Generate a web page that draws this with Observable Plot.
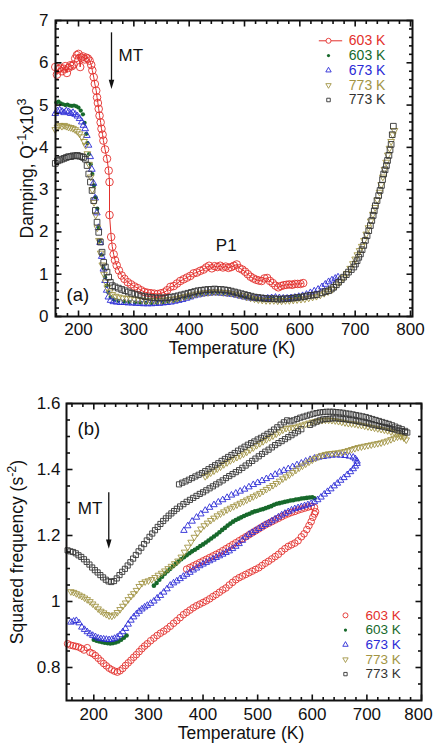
<!DOCTYPE html>
<html>
<head>
<meta charset="utf-8">
<script src="https://cdn.jsdelivr.net/npm/d3@7"></script>
<script src="https://cdn.jsdelivr.net/npm/@observablehq/plot@0.6"></script>
<style>
  html, body { margin: 0; padding: 0; background: #fff; }
  #fig { position: relative; width: 434px; height: 747px; overflow: hidden;
         font-family: "Liberation Sans", Arial, Helvetica, sans-serif; }
  #fig svg { position: absolute; left: 0; }
</style>
</head>
<body>
<div id="fig"></div>
<script>
// ---------------- (a) damping Q^-1 x10^3 versus temperature, [K, value] ----------------
const dampRed603 = [[158,5.90],[161,5.72],[164,5.85],[167,5.88],[170,5.80],[173,5.86],[176,5.92],[179,5.76],[182,5.88],[185,5.94],[188,5.92],[191,5.96],[194,6.10],[197,6.18],[200,6.21],[203,5.90],[205,6.12],[208,6.15],[211,6.08],[214,6.12],[217,6.10],[220,6.05],[223,5.95],[225,5.82],[227.5,5.66],[229.5,5.50],[232,5.34],[233.5,5.18],[235,5.05],[236.5,4.91],[238,4.75],[240,4.59],[241.5,4.44],[243.5,4.30],[245,4.16],[248,3.95],[251.5,3.73],[254.5,3.45],[256,3.18],[256,2.40],[259,1.88],[261,1.65],[263.5,1.47],[266,1.33],[269,1.21],[273,1.09],[278,0.97],[283,0.89],[289,0.81],[295,0.76],[301,0.71],[307,0.67],[313,0.62],[319,0.58],[325,0.56],[331,0.55],[337,0.54],[343,0.53],[349,0.55],[355,0.57],[360,0.62],[366,0.70],[372,0.72],[378,0.78],[384,0.84],[390,0.88],[396,0.92],[402,0.96],[408,1.02],[414,1.04],[420,1.08],[426,1.11],[431,1.16],[436,1.20],[441,1.14],[446,1.19],[451,1.17],[456,1.20],[461,1.16],[466,1.18],[471,1.15],[476,1.17],[481,1.20],[486,1.23],[491,1.14],[496,1.11],[501,1.06],[506,1.00],[511,0.94],[516,0.90],[521,0.87],[526,0.85],[531,0.84],[536,0.90],[541,0.91],[546,0.84],[551,0.79],[556,0.73],[561,0.69],[566,0.72],[571,0.74],[576,0.75],[581,0.76],[586,0.75],[591,0.77],[596,0.77],[601,0.77],[606,0.79]];

const dampGreen603 = [[160,5.06],[164,5.08],[168,5.04],[172,5.02],[176,5.00],[180,5.01],[184,4.99],[188,4.98],[192,4.99],[196,4.97],[200,4.94],[204,4.87],[208,4.78],[211,4.58],[214,4.32],[216,4.10],[219,3.84],[222,3.60],[225,3.37],[228,3.10],[231,2.82],[234,2.55],[236.5,2.10],[239,1.78],[242,1.46],[245,1.17],[248,0.93],[251,0.73],[254,0.57],[258,0.46],[264,0.40],[272,0.37],[282,0.35],[292,0.34],[302,0.33],[312,0.33],[322,0.32],[332,0.32],[342,0.32],[352,0.33],[362,0.35],[372,0.37],[382,0.40],[392,0.43],[402,0.46],[412,0.50],[422,0.52],[432,0.54],[442,0.55],[452,0.55],[462,0.54],[472,0.53],[482,0.51],[492,0.48],[502,0.45],[512,0.42],[522,0.40],[532,0.40],[542,0.41],[552,0.42],[562,0.41],[572,0.41],[582,0.42],[592,0.44],[600,0.46]];

const dampBlue673 = [[158,4.80],[162,4.86],[166,4.88],[170,4.85],[174,4.82],[178,4.86],[182,4.84],[186,4.80],[190,4.82],[194,4.78],[198,4.74],[202,4.68],[206,4.60],[209,4.52],[212,4.44],[215,4.28],[218,4.05],[221,3.78],[224,3.48],[227,3.15],[230,2.80],[233,2.45],[236,2.10],[239,1.75],[242,1.42],[245,1.12],[248,0.85],[251,0.62],[254,0.46],[258,0.38],[263,0.35],[269,0.34],[276,0.33],[283,0.33],[290,0.32],[297,0.32],[304,0.31],[311,0.31],[318,0.30],[325,0.30],[332,0.30],[339,0.31],[346,0.31],[353,0.32],[360,0.33],[367,0.34],[374,0.36],[381,0.38],[388,0.40],[395,0.43],[402,0.46],[409,0.49],[416,0.51],[423,0.53],[430,0.54],[437,0.55],[444,0.56],[451,0.56],[458,0.55],[465,0.54],[472,0.53],[479,0.52],[486,0.50],[493,0.48],[500,0.46],[507,0.44],[514,0.43],[521,0.42],[528,0.42],[535,0.42],[542,0.43],[549,0.44],[556,0.45],[563,0.44],[570,0.43],[577,0.43],[584,0.44],[591,0.45],[598,0.47],[605,0.49],[612,0.52],[619,0.56],[626,0.60],[633,0.64],[640,0.70],[646,0.76],[652,0.82],[658,0.86],[664,0.90],[669,0.93]];

const dampOlive773 = [[158,4.42],[162,4.48],[166,4.52],[170,4.50],[174,4.52],[178,4.50],[182,4.48],[186,4.47],[190,4.45],[194,4.42],[198,4.38],[202,4.32],[206,4.25],[210,4.14],[213,4.05],[216,3.85],[219,3.60],[222,3.30],[225,3.00],[228,2.70],[231,2.40],[234,2.10],[237,1.80],[240,1.50],[243,1.22],[246,1.00],[249,0.82],[252,0.68],[256,0.58],[261,0.52],[267,0.48],[273,0.46],[280,0.44],[287,0.43],[294,0.42],[301,0.41],[308,0.40],[315,0.39],[322,0.38],[329,0.38],[336,0.38],[343,0.38],[350,0.38],[357,0.39],[364,0.40],[371,0.41],[378,0.43],[385,0.45],[392,0.47],[399,0.49],[406,0.51],[413,0.53],[420,0.55],[427,0.56],[434,0.57],[441,0.58],[448,0.58],[455,0.58],[462,0.57],[469,0.56],[476,0.55],[483,0.53],[490,0.51],[497,0.49],[504,0.46],[511,0.44],[518,0.42],[525,0.40],[532,0.39],[539,0.38],[546,0.38],[553,0.38],[560,0.37],[567,0.37],[574,0.38],[581,0.38],[588,0.39],[595,0.40],[602,0.41],[609,0.42],[616,0.44],[623,0.46],[630,0.48],[637,0.51],[644,0.55],[651,0.59],[658,0.64],[665,0.72],[672,0.82],[679,0.92],[685,1.02],[691,1.14],[696,1.25],[700,1.36],[704,1.46],[708,1.56],[712,1.66],[716,1.80],[720,1.95],[724,2.10],[728,2.26],[732,2.42],[736,2.58],[740,2.76],[744,2.94],[747,3.12],[750,3.30],[753,3.48],[756,3.65],[759,3.82],[762,3.98],[765,4.14],[768,4.30],[771,4.40]];

const dampBlack773 = [[158,3.62],[162,3.68],[166,3.70],[170,3.72],[174,3.74],[178,3.76],[182,3.78],[186,3.78],[190,3.80],[194,3.80],[198,3.81],[202,3.79],[206,3.78],[209,3.76],[212.5,3.72],[215.5,3.57],[218.5,3.37],[221.5,3.18],[224.5,2.98],[227.5,2.74],[230.5,2.51],[233.5,2.23],[236.5,1.99],[239.5,1.76],[242.5,1.52],[245.5,1.28],[248.5,1.17],[251.5,1.05],[254.5,0.93],[257.5,0.81],[261,0.73],[266,0.70],[272,0.67],[278,0.64],[284,0.61],[290,0.58],[296,0.55],[302,0.53],[308,0.51],[314,0.49],[320,0.47],[326,0.46],[332,0.45],[338,0.44],[344,0.44],[350,0.44],[356,0.44],[362,0.45],[368,0.46],[374,0.47],[380,0.49],[386,0.51],[392,0.53],[398,0.55],[404,0.57],[410,0.59],[416,0.61],[422,0.62],[428,0.63],[434,0.64],[440,0.64],[446,0.65],[452,0.64],[458,0.64],[464,0.63],[470,0.62],[476,0.60],[482,0.58],[488,0.56],[494,0.54],[500,0.52],[506,0.50],[512,0.48],[518,0.46],[524,0.45],[530,0.44],[536,0.43],[542,0.42],[548,0.42],[554,0.42],[560,0.41],[566,0.41],[572,0.42],[578,0.42],[584,0.43],[590,0.44],[596,0.45],[602,0.46],[608,0.47],[614,0.49],[620,0.50],[626,0.51],[631,0.52],[640,0.56],[646,0.59],[652,0.61],[657,0.65],[661,0.69],[666,0.75],[670,0.81],[675,0.87],[679,0.93],[684,0.99],[688,1.05],[693,1.11],[697.5,1.17],[700.5,1.24],[703.5,1.32],[706.5,1.40],[709.5,1.48],[712.5,1.58],[715.5,1.68],[718.5,1.80],[721.5,1.91],[724.5,2.03],[727.5,2.15],[730,2.27],[732.5,2.39],[734.5,2.50],[736.5,2.62],[739.5,2.74],[742.5,2.86],[745,2.98],[747.5,3.10],[749.5,3.24],[751.5,3.37],[754,3.47],[756.5,3.57],[758.5,3.69],[761,3.81],[763,3.94],[765,4.07],[767,4.30],[769,4.50]];

// ---------------- (b) squared frequency (s^-2) versus temperature, [K, value] ----------------
const freqRed603 = [[152,0.872],[157,0.868],[162,0.866],[167,0.864],[172,0.862],[177,0.858],[182,0.853],[188,0.860],[193,0.846],[198,0.842],[203,0.836],[208,0.828],[213,0.820],[218,0.812],[223,0.805],[228,0.798],[233,0.793],[238,0.789],[243,0.786],[248,0.790],[253,0.797],[258,0.806],[263,0.814],[268,0.822],[273,0.831],[278,0.839],[283,0.848],[288,0.857],[293,0.865],[298,0.872],[304,0.881],[310,0.889],[316,0.897],[322,0.904],[328,0.910],[334,0.917],[340,0.925],[346,0.934],[352,0.942],[358,0.951],[364,0.960],[370,0.967],[376,0.974],[382,0.981],[388,0.987],[394,0.992],[400,0.997],[406,1.002],[412,1.008],[418,1.015],[424,1.021],[430,1.028],[436,1.035],[442,1.041],[448,1.050],[454,1.058],[460,1.066],[466,1.072],[472,1.077],[478,1.082],[484,1.087],[490,1.092],[496,1.097],[502,1.102],[508,1.109],[514,1.116],[520,1.122],[526,1.129],[532,1.136],[538,1.143],[544,1.152],[550,1.160],[556,1.167],[562,1.172],[568,1.177],[574,1.184],[580,1.196],[585,1.205],[590,1.218],[594,1.230],[598,1.242],[601,1.255],[604,1.265],[606,1.272],
  [604,1.285],[598,1.288],[592,1.286],[586,1.283],[580,1.280],[574,1.277],[568,1.273],[562,1.270],[556,1.266],[550,1.262],[544,1.257],[538,1.252],[532,1.247],[526,1.242],[520,1.237],[514,1.232],[508,1.226],[502,1.220],[496,1.214],[490,1.208],[484,1.202],[478,1.196],[472,1.190],[466,1.184],[460,1.178],[454,1.172],[448,1.166],[442,1.160],[436,1.154],[430,1.148],[424,1.143],[418,1.138],[412,1.133],[406,1.128],[400,1.123],[394,1.118],[388,1.113],[382,1.108],[376,1.103],[370,1.098]];

const freqGreen603 = [[200,0.884],[205,0.881],[210,0.879],[215,0.877],[220,0.875],[225,0.874],[230,0.873],[235,0.874],[240,0.876],[245,0.879],[250,0.884],[255,0.890],[260,0.897],
  [310,1.048],[315,1.056],[320,1.066],[325,1.075],[330,1.084],[335,1.092],[340,1.099],[345,1.107],[350,1.114],[355,1.121],[360,1.128],[365,1.134],[370,1.140],[375,1.146],[380,1.152],[385,1.157],[390,1.162],[395,1.168],[400,1.173],[405,1.179],[410,1.185],[415,1.191],[420,1.197],[425,1.203],[430,1.210],[435,1.217],[440,1.223],[445,1.230],[450,1.236],[455,1.242],[460,1.247],[465,1.251],[470,1.255],[475,1.259],[480,1.263],[485,1.266],[490,1.270],[495,1.273],[500,1.275],[505,1.278],[510,1.280],[515,1.283],[520,1.286],[525,1.289],[530,1.293],[535,1.296],[540,1.298],[545,1.300],[550,1.302],[555,1.304],[560,1.306],[565,1.307],[570,1.309],[575,1.310],[580,1.312],[585,1.313],[590,1.314],[595,1.315],[600,1.316],[604,1.313]];

const freqBlue673 = [[158,0.937],[163,0.940],[168,0.942],[173,0.935],[178,0.922],[183,0.915],[188,0.908],[193,0.902],[198,0.897],[203,0.893],[208,0.889],[213,0.887],[218,0.886],[223,0.885],[228,0.884],[233,0.885],[238,0.888],[243,0.892],[248,0.899],[253,0.908],[258,0.918],[263,0.931],[268,0.943],[273,0.953],[278,0.962],[283,0.970],[288,0.977],[293,0.983],[298,0.988],[304,0.994],[310,1.001],[316,1.010],[322,1.018],[328,1.028],[334,1.038],[340,1.049],[346,1.056],[352,1.062],[358,1.069],[364,1.076],[370,1.082],[376,1.088],[382,1.095],[388,1.101],[394,1.108],[400,1.113],[406,1.118],[412,1.123],[418,1.128],[424,1.133],[430,1.138],[436,1.143],[442,1.148],[448,1.153],[454,1.160],[460,1.167],[466,1.175],[472,1.185],[478,1.195],[484,1.203],[490,1.209],[496,1.215],[502,1.221],[508,1.227],[514,1.233],[520,1.238],[526,1.244],[532,1.250],[538,1.256],[544,1.262],[550,1.267],[556,1.272],[562,1.277],[568,1.281],[574,1.284],[580,1.287],[586,1.290],[592,1.293],[598,1.297],[604,1.302],[610,1.308],[616,1.316],[622,1.325],[628,1.333],[634,1.341],[640,1.350],[646,1.358],[652,1.367],[658,1.375],[664,1.384],[670,1.393],[675,1.402],[679,1.410],[682,1.418],
  [682,1.425],[679,1.432],[675,1.437],[668,1.440],[660,1.442],[652,1.443],[644,1.444],[636,1.443],[628,1.441],[620,1.439],[612,1.437],[604,1.434],[596,1.430],[588,1.425],[580,1.419],[572,1.414],[564,1.408],[556,1.402],[548,1.397],[540,1.392],[532,1.385],[524,1.378],[516,1.372],[508,1.366],[500,1.360],[492,1.354],[484,1.347],[476,1.340],[468,1.334],[460,1.328],[452,1.322],[444,1.315],[436,1.308],[428,1.301],[420,1.293],[412,1.285],[404,1.276],[396,1.265],[388,1.255],[380,1.243],[372,1.229],[365,1.215]];

const freqOlive773 = [[158,1.030],[163,1.028],[168,1.024],[173,1.020],[178,1.016],[183,1.011],[188,1.006],[193,1.000],[198,0.993],[203,0.986],[208,0.978],[213,0.971],[218,0.966],[223,0.961],[228,0.957],[233,0.956],[238,0.960],[243,0.967],[248,0.976],[253,0.986],[258,0.996],[263,1.006],[268,1.016],[273,1.024],[278,1.034],[283,1.046],[288,1.055],[294,1.060],[300,1.063],[306,1.067],[312,1.073],[318,1.080],[324,1.086],[330,1.093],[336,1.100],[342,1.107],[348,1.115],[354,1.123],[360,1.135],[366,1.150],[372,1.165],[378,1.180],[384,1.195],[390,1.208],[396,1.220],[402,1.230],[408,1.238],[414,1.246],[420,1.253],[426,1.260],[432,1.266],[438,1.272],[444,1.278],[450,1.283],[456,1.288],[462,1.293],[468,1.298],[474,1.303],[480,1.308],[486,1.313],[492,1.318],[498,1.323],[504,1.328],[510,1.334],[516,1.340],[522,1.346],[528,1.352],[534,1.358],[540,1.365],[546,1.372],[552,1.378],[558,1.384],[564,1.391],[570,1.398],[576,1.405],[582,1.411],[588,1.417],[594,1.423],[600,1.429],[606,1.434],[612,1.439],[618,1.443],[624,1.446],[630,1.448],[636,1.449],[642,1.450],[648,1.451],[654,1.453],[660,1.455],[666,1.458],[672,1.461],[678,1.464],[684,1.467],[690,1.469],[696,1.471],[702,1.473],[708,1.475],[714,1.477],[720,1.479],[726,1.481],[732,1.484],[738,1.487],[744,1.491],[750,1.495],[756,1.499],[762,1.500],[768,1.496],[772,1.490],
  [768,1.497],[762,1.503],[756,1.508],[750,1.512],[744,1.515],[738,1.518],[732,1.520],[726,1.522],[720,1.524],[714,1.526],[708,1.528],[702,1.530],[696,1.532],[690,1.534],[684,1.536],[678,1.538],[672,1.539],[666,1.540],[660,1.542],[654,1.544],[648,1.546],[642,1.548],[636,1.549],[630,1.550],[624,1.550],[618,1.549],[612,1.548],[606,1.546],[600,1.544],[594,1.541],[588,1.538],[582,1.535],[576,1.532],[570,1.529],[564,1.527],[558,1.526],[552,1.525],[546,1.520],[540,1.514],[534,1.508],[528,1.502],[522,1.497],[516,1.491],[510,1.485],[504,1.479],[498,1.473],[492,1.466],[486,1.460],[480,1.453],[474,1.447],[468,1.442],[462,1.437],[456,1.432],[450,1.427],[444,1.421],[438,1.415],[432,1.408],[426,1.402],[420,1.396],[414,1.390],[408,1.384],[404,1.379]];

const freqBlack773 = [[152,1.155],[157,1.152],[162,1.150],[167,1.146],[172,1.140],[177,1.135],[182,1.128],[187,1.120],[192,1.112],[197,1.103],[202,1.095],[207,1.088],[212,1.080],[217,1.073],[222,1.066],[227,1.061],[232,1.059],[237,1.062],[242,1.070],[247,1.080],[252,1.090],[257,1.099],[262,1.109],[267,1.119],[272,1.130],[277,1.141],[282,1.152],[287,1.163],[292,1.174],[297,1.185],[302,1.196],[307,1.206],[312,1.216],[317,1.226],[322,1.235],[327,1.244],[332,1.252],[337,1.260],[342,1.267],[347,1.274],[352,1.281],[358,1.288],[364,1.295],[370,1.302],[376,1.308],[382,1.314],[388,1.320],[394,1.326],[400,1.331],[406,1.337],[412,1.343],[418,1.349],[424,1.355],[430,1.361],[436,1.367],[442,1.374],[448,1.380],[454,1.386],[460,1.392],[466,1.398],[472,1.405],[478,1.412],[484,1.419],[490,1.426],[496,1.433],[502,1.440],[508,1.447],[514,1.454],[520,1.460],[526,1.467],[532,1.474],[538,1.480],[544,1.486],[550,1.492],[556,1.498],[562,1.504],[568,1.510],[574,1.516],[580,1.522],[596,1.535],[602,1.540],[608,1.545],[614,1.549],[620,1.552],[626,1.553],[632,1.554],[638,1.555],[644,1.555],[650,1.554],[656,1.553],[662,1.552],[668,1.550],[674,1.549],[680,1.547],[686,1.545],[692,1.543],[698,1.541],[704,1.539],[710,1.536],[716,1.534],[722,1.532],[728,1.530],[734,1.528],[740,1.526],[746,1.523],[752,1.521],[758,1.518],[764,1.516],[770,1.513],[774,1.512],
  [770,1.517],[764,1.522],[758,1.526],[752,1.530],[746,1.534],[740,1.538],[734,1.541],[728,1.544],[722,1.547],[716,1.550],[710,1.553],[704,1.556],[698,1.559],[692,1.561],[686,1.563],[680,1.565],[674,1.567],[668,1.569],[662,1.570],[656,1.572],[650,1.573],[644,1.574],[638,1.575],[632,1.575],[626,1.575],[620,1.574],[614,1.573],[608,1.571],[602,1.569],[596,1.566],[590,1.563],[584,1.560],[578,1.557],[572,1.553],[566,1.549],[560,1.546],[554,1.549],[548,1.543],[542,1.536],[536,1.528],[530,1.521],[524,1.514],[518,1.508],[512,1.502],[506,1.496],[500,1.491],[494,1.485],[488,1.480],[482,1.475],[476,1.469],[470,1.463],[464,1.457],[458,1.450],[452,1.444],[446,1.438],[440,1.432],[434,1.426],[428,1.419],[422,1.413],[416,1.407],[410,1.401],[404,1.395],[398,1.389],[392,1.384],[386,1.379],[380,1.374],[374,1.369],[368,1.364],[362,1.360],[356,1.355]];

// axis tick values and legend names
const tempTicks = [200, 300, 400, 500, 600, 700, 800];
const dampTicks = [0, 1, 2, 3, 4, 5, 6, 7];
const freqTicks = [0.8, 1, 1.2, 1.4, 1.6];
const seriesNames = ["603 K", "603 K", "673 K", "773 K", "773 K"];

// ---------------- styling ----------------
const FONT = '"Liberation Sans", Arial, Helvetica, sans-serif';
const RED = "#e3302c", GREEN = "#17692b", BLUE = "#2b2bd6", OLIVE = "#a29444", BLACK = "#333333";
const X = d => d[0], Y = d => d[1];

const xMinor = d3.range(160, 801, 20).filter(t => t % 100 !== 0);

// inward ticks on all four sides plus the heavy frame; tick lengths are
// given in pixels and converted into data units of each axis
function boxTicks({xd, yd, iw, ih, xMajor, xMinorT, yMajor, yMinor, majorLen = 6, minorLen = 3.5}) {
  const kx = (xd[1] - xd[0]) / iw, ky = (yd[1] - yd[0]) / ih;
  const tick = {stroke: "#111", strokeWidth: 1.6};
  const marks = [];
  for (const [ticks, len] of [[xMajor, majorLen], [xMinorT, minorLen]]) {
    marks.push(Plot.link(ticks, {x1: d => d, x2: d => d, y1: () => yd[0], y2: () => yd[0] + len * ky, ...tick}));
    marks.push(Plot.link(ticks, {x1: d => d, x2: d => d, y1: () => yd[1] - len * ky, y2: () => yd[1], ...tick}));
  }
  for (const [ticks, len] of [[yMajor, majorLen], [yMinor, minorLen]]) {
    marks.push(Plot.link(ticks, {y1: d => d, y2: d => d, x1: () => xd[0], x2: () => xd[0] + len * kx, ...tick}));
    marks.push(Plot.link(ticks, {y1: d => d, y2: d => d, x1: () => xd[1] - len * kx, x2: () => xd[1], ...tick}));
  }
  marks.push(Plot.frame({stroke: "#111", strokeWidth: 2}));
  return marks;
}

// narrow filled arrow head, tip at the origin pointing down
const arrowHead = {
  draw(ctx, size) {
    const s = Math.sqrt(size);
    ctx.moveTo(0, 0);
    ctx.lineTo(-s * 0.3, -s);
    ctx.lineTo(s * 0.3, -s);
    ctx.closePath();
  }
};

// series styles shared by both panels
const styles = [
  {color: RED,   symbol: "circle",   fill: "none", rotate: 0},
  {color: GREEN, symbol: "circle",   fill: GREEN,  rotate: 0},
  {color: BLUE,  symbol: "triangle", fill: "none", rotate: 0},
  {color: OLIVE, symbol: "triangle", fill: "none", rotate: 180},
  {color: BLACK, symbol: "square",   fill: "none", rotate: 0}
];

function seriesDot(data, st, r) {
  return Plot.dot(data, {
    x: X, y: Y, r, symbol: st.symbol, rotate: st.rotate,
    stroke: st.fill === "none" ? st.color : "none",
    fill: st.fill, strokeWidth: 0.9
  });
}

function legendMarks({tSym, tText, vTop, vStep, rs, fontSize, lineRed}) {
  const marks = [];
  seriesNames.forEach((name, i) => {
    const st = styles[i];
    const v = vTop - i * vStep;
    if (i === 0 && lineRed) {
      marks.push(Plot.link([0], {x1: lineRed[0], x2: lineRed[1], y1: v, y2: v, stroke: st.color, strokeWidth: 1}));
    }
    marks.push(Plot.dot([0], {x: tSym, y: v, r: rs[i], symbol: st.symbol, rotate: st.rotate,
      stroke: st.fill === "none" ? st.color : "none", fill: st.fill === "none" ? "white" : st.fill, strokeWidth: 0.9}));
    marks.push(Plot.text([name], {x: tText, y: v, text: d => d, fill: st.color,
      textAnchor: "start", fontSize, fontFamily: FONT}));
  });
  return marks;
}

function superscripts(svg, cls, parts) {
  d3.select(svg).selectAll(`g.${cls} text`).each(function () {
    const t = d3.select(this);
    t.text(null);
    let raised = false;
    parts.forEach(([s, sup]) => {
      const sp = t.append("tspan").text(s);
      if (sup) { sp.attr("font-size", "72%").attr("dy", -7); raised = true; }
      else if (raised) { sp.attr("dy", 7); raised = false; }
    });
  });
}

const fig = document.getElementById("fig");

// ---------------- panel (a) ----------------
const A = {w: 434, h: 365, mt: 20, mr: 22, mb: 49, ml: 55, xd: [158.4, 803.6], yd: [0, 7]};
const aIW = A.w - A.ml - A.mr, aIH = A.h - A.mt - A.mb;
const plotA = Plot.plot({
  width: A.w, height: A.h,
  marginTop: A.mt, marginRight: A.mr, marginBottom: A.mb, marginLeft: A.ml,
  style: {fontFamily: FONT, fontSize: "17px", color: "#111", background: "transparent", overflow: "visible"},
  x: {domain: A.xd},
  y: {domain: A.yd},
  marks: [
    Plot.line(dampRed603, {x: X, y: Y, stroke: RED, strokeWidth: 1}),
    seriesDot(dampRed603, styles[0], 3.8),
    seriesDot(dampGreen603, styles[1], 2.1),
    seriesDot(dampBlue673, styles[2], 2.5),
    seriesDot(dampOlive773, styles[3], 2.5),
    seriesDot(dampBlack773, styles[4], 3.2),
    ...boxTicks({xd: A.xd, yd: A.yd, iw: aIW, ih: aIH, xMajor: tempTicks, xMinorT: xMinor,
      yMajor: dampTicks, yMinor: d3.range(0.2, 7, 0.2).filter(v => Math.abs(v - Math.round(v)) > 1e-6)}),
    Plot.axisX(tempTicks, {anchor: "bottom", tickSize: 0, tickPadding: 6, fontSize: 17, label: null, tickFormat: d => String(d)}),
    Plot.axisY(dampTicks, {anchor: "left", tickSize: 0, tickPadding: 7, fontSize: 17, label: null, tickFormat: d => String(d)}),
    Plot.text(["Temperature (K)"], {frameAnchor: "bottom", dx: -2, dy: 25, lineAnchor: "top", fontSize: 17.5}),
    Plot.text(["Damping, Q-1x103"], {frameAnchor: "left", dx: -23, rotate: -90, textAnchor: "middle", lineAnchor: "bottom", fontSize: 17.5, className: "ylab-a"}),
    // transition marker and labels
    Plot.link([0], {x1: 259.6, x2: 259.6, y1: 6.72, y2: 5.55, stroke: "#111", strokeWidth: 1.3}),
    Plot.dot([0], {x: 259.6, y: 5.38, symbol: arrowHead, r: 5.2, fill: "#111", stroke: "none"}),
    Plot.text(["MT"], {x: 272.3, y: 6.17, textAnchor: "start", fontSize: 17}),
    Plot.text(["P1"], {x: 467, y: 1.68, fontSize: 17}),
    Plot.text(["(a)"], {x: 178.3, y: 0.50, textAnchor: "start", fontSize: 18.5}),
    ...legendMarks({tSym: 651.8, tText: 688.5, vTop: 6.52, vStep: 0.35, rs: [2.5, 1.6, 2.0, 2.0, 2.0], fontSize: 14, lineRed: [634.3, 676.5]})
  ]
});
plotA.style.top = "0px";
fig.appendChild(plotA);
superscripts(plotA, "ylab-a", [["Damping, Q", false], ["-1", true], ["x10", false], ["3", true]]);

// ---------------- panel (b) ----------------
const B = {w: 434, h: 382, mt: 38, mr: 13, mb: 47, ml: 66, xd: [150, 800], yd: [0.7, 1.6]};
const bIW = B.w - B.ml - B.mr, bIH = B.h - B.mt - B.mb;
const plotB = Plot.plot({
  width: B.w, height: B.h,
  marginTop: B.mt, marginRight: B.mr, marginBottom: B.mb, marginLeft: B.ml,
  style: {fontFamily: FONT, fontSize: "17px", color: "#111", background: "transparent", overflow: "visible"},
  x: {domain: B.xd},
  y: {domain: B.yd},
  marks: [
    seriesDot(freqRed603, styles[0], 3.3),
    seriesDot(freqGreen603, styles[1], 2.3),
    seriesDot(freqBlue673, styles[2], 2.4),
    seriesDot(freqOlive773, styles[3], 2.4),
    seriesDot(freqBlack773, styles[4], 2.9),
    ...boxTicks({xd: B.xd, yd: B.yd, iw: bIW, ih: bIH, xMajor: tempTicks, xMinorT: xMinor,
      yMajor: freqTicks, yMinor: d3.range(0.75, 1.6, 0.05).filter(v => Math.abs(v * 5 - Math.round(v * 5)) > 1e-6)}),
    Plot.axisX(tempTicks.slice(0, -1), {anchor: "bottom", tickSize: 0, tickPadding: 7, fontSize: 17, label: null, tickFormat: d => String(d)}),
    Plot.axisX(tempTicks.slice(-1), {anchor: "bottom", tickSize: 0, tickPadding: 7, fontSize: 17, label: null, dx: -3, tickFormat: d => String(d)}),
    Plot.axisY(freqTicks, {anchor: "left", tickSize: 0, tickPadding: 6, fontSize: 17, label: null, tickFormat: d => d === 1 ? "1" : d.toFixed(1)}),
    Plot.text(["Temperature (K)"], {frameAnchor: "bottom", dx: -3, dy: 26, lineAnchor: "top", fontSize: 17.5}),
    Plot.text(["Squared frequency (s-2)"], {frameAnchor: "left", dx: -44, rotate: -90, textAnchor: "middle", lineAnchor: "bottom", fontSize: 17.5, className: "ylab-b"}),
    Plot.link([0], {x1: 227.4, x2: 227.4, y1: 1.331, y2: 1.185, stroke: "#111", strokeWidth: 1.3}),
    Plot.dot([0], {x: 227.4, y: 1.160, symbol: arrowHead, r: 5.2, fill: "#111", stroke: "none"}),
    Plot.text(["MT"], {x: 170.7, y: 1.281, textAnchor: "start", fontSize: 17}),
    Plot.text(["(b)"], {x: 190.9, y: 1.521, fontSize: 18.5}),
    ...legendMarks({tSym: 660.8, tText: 697.4, vTop: 0.958, vStep: 0.0445, rs: [2.5, 1.6, 2.0, 2.0, 1.9], fontSize: 13.5, lineRed: null})
  ]
});
plotB.style.top = "365px";
fig.appendChild(plotB);
superscripts(plotB, "ylab-b", [["Squared frequency (s", false], ["-2", true], [")", false]]);
</script>
</body>
</html>
